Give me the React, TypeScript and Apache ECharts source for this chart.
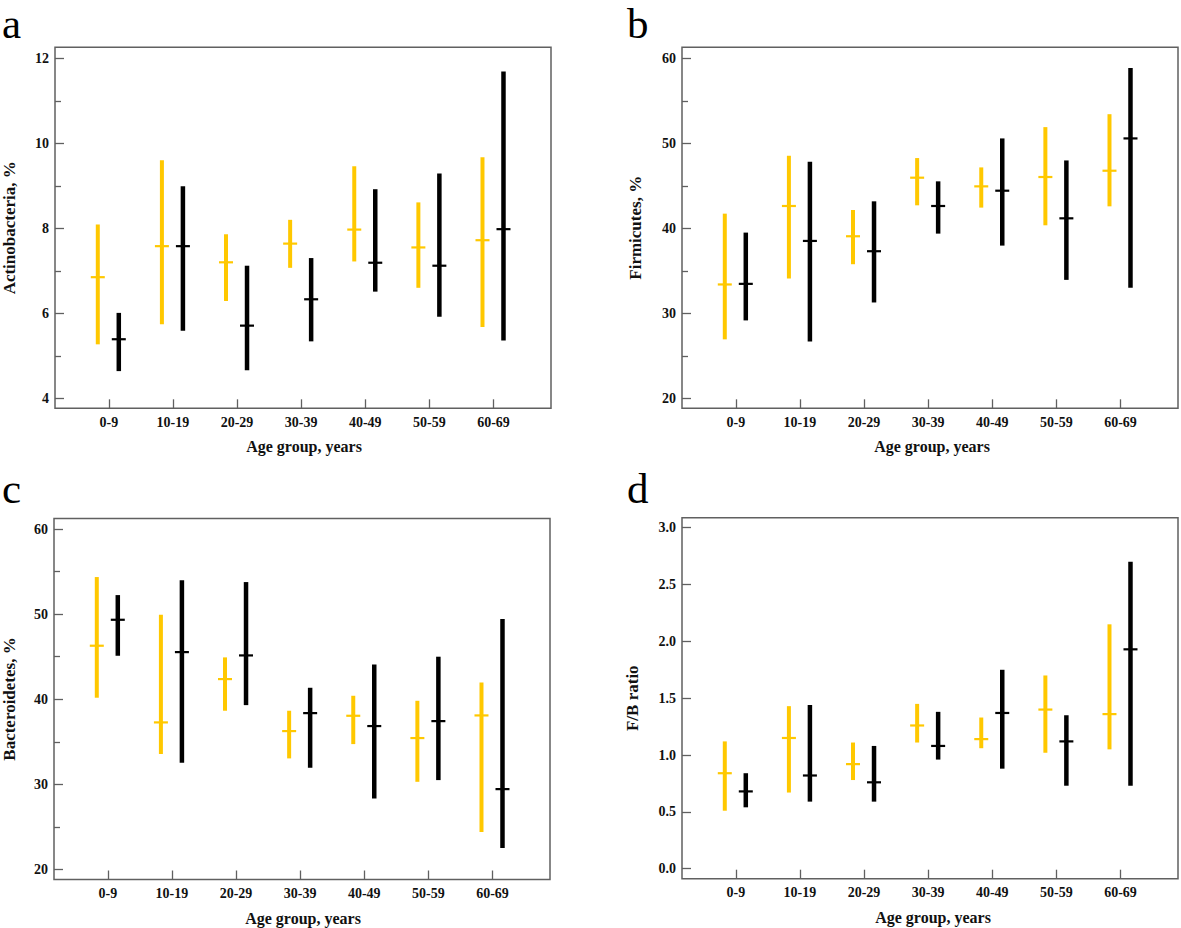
import React, { useEffect, useRef } from "react";
import * as echarts from "echarts";

const categories = ["0-9", "10-19", "20-29", "30-39", "40-49", "50-59", "60-69"];

// Panel a: Actinobacteria, %
const actinoYellowLow = [5.27, 5.74, 6.29, 7.07, 7.22, 6.6, 5.68];
const actinoYellowMed = [6.85, 7.58, 7.2, 7.64, 7.97, 7.55, 7.72];
const actinoYellowHigh = [8.09, 9.6, 7.86, 8.2, 9.46, 8.61, 9.67];
const actinoBlackLow = [4.64, 5.59, 4.66, 5.34, 6.51, 5.92, 5.36];
const actinoBlackMed = [5.39, 7.58, 5.71, 6.33, 7.19, 7.12, 7.98];
const actinoBlackHigh = [6.01, 8.99, 7.12, 7.3, 8.92, 9.29, 11.69];

// Panel b: Firmicutes, %
const firmYellowLow = [26.93, 34.09, 35.77, 42.7, 42.43, 40.35, 42.58];
const firmYellowMed = [33.39, 42.62, 39.06, 45.95, 44.93, 46.03, 46.77];
const firmYellowHigh = [41.72, 48.53, 42.15, 48.26, 47.16, 51.9, 53.42];
const firmBlackLow = [29.16, 26.69, 31.27, 39.37, 37.96, 33.93, 32.99];
const firmBlackMed = [33.46, 38.51, 37.3, 42.62, 44.42, 41.17, 50.57];
const firmBlackHigh = [39.49, 47.83, 43.17, 45.52, 50.57, 47.98, 58.86];

// Panel c: Bacteroidetes, %
const bactYellowLow = [40.18, 33.56, 38.65, 33.05, 34.73, 30.3, 24.39];
const bactYellowMed = [46.29, 37.28, 42.37, 36.26, 38.06, 35.44, 38.1];
const bactYellowHigh = [54.36, 49.93, 44.92, 38.65, 40.41, 39.82, 41.98];
const bactBlackLow = [45.11, 32.54, 39.31, 31.95, 28.34, 30.5, 22.51];
const bactBlackMed = [49.34, 45.54, 45.15, 38.37, 36.85, 37.43, 29.44];
const bactBlackHigh = [52.24, 53.97, 53.77, 41.35, 44.09, 45.0, 49.42];

// Panel d: F/B ratio
const fbYellowLow = [0.51, 0.67, 0.78, 1.11, 1.06, 1.02, 1.05];
const fbYellowMed = [0.84, 1.15, 0.92, 1.26, 1.14, 1.4, 1.36];
const fbYellowHigh = [1.12, 1.43, 1.11, 1.45, 1.33, 1.7, 2.15];
const fbBlackLow = [0.54, 0.59, 0.59, 0.96, 0.88, 0.73, 0.73];
const fbBlackMed = [0.68, 0.82, 0.76, 1.08, 1.37, 1.12, 1.93];
const fbBlackHigh = [0.84, 1.44, 1.08, 1.38, 1.75, 1.35, 2.7];

const ticksA = [4, 6, 8, 10, 12];
const minorA = [5, 7, 9, 11];
const ticksB = [20, 30, 40, 50, 60];
const minorB = [25, 35, 45, 55];
const ticksC = [20, 30, 40, 50, 60];
const minorC = [25, 35, 45, 55];
const ticksD = [0, 0.5, 1, 1.5, 2, 2.5, 3];
const minorD: number[] = [];

const YELLOW = "#FFC800";
const BLACK = "#000000";
const AXIS_GRAY = "#606060";
const FONT = "'Liberation Serif', 'Times New Roman', serif";

type Panel = {
  letter: string;
  yName: string;
  left: number;
  top: number;
  yMin: number;
  yMax: number;
  ticks: number[];
  minor: number[];
  decimals: number;
  yellow: number[][];
  black: number[][];
  nameX: number;
  titleX: number;
  letterX: number;
  letterY: number;
};

function zip(lo: number[], med: number[], hi: number[]) {
  return lo.map((l, i) => [i + 1, l, med[i], hi[i]]);
}

const W = 496;
const H = 361;

const panels: Panel[] = [
  {
    letter: "a", yName: "Actinobacteria, %", left: 55, top: 47.3,
    yMin: 3.765, yMax: 12.259, ticks: ticksA, minor: minorA, decimals: 0,
    yellow: zip(actinoYellowLow, actinoYellowMed, actinoYellowHigh),
    black: zip(actinoBlackLow, actinoBlackMed, actinoBlackHigh),
    nameX: 9.5, titleX: 304, letterX: 2, letterY: 2,
  },
  {
    letter: "b", yName: "Firmicutes, %", left: 682, top: 47.3,
    yMin: 18.82, yMax: 61.29, ticks: ticksB, minor: minorB, decimals: 0,
    yellow: zip(firmYellowLow, firmYellowMed, firmYellowHigh),
    black: zip(firmBlackLow, firmBlackMed, firmBlackHigh),
    nameX: 635.5, titleX: 932, letterX: 627, letterY: 2,
  },
  {
    letter: "c", yName: "Bacteroidetes, %", left: 54, top: 518.5,
    yMin: 18.82, yMax: 61.24, ticks: ticksC, minor: minorC, decimals: 0,
    yellow: zip(bactYellowLow, bactYellowMed, bactYellowHigh),
    black: zip(bactBlackLow, bactBlackMed, bactBlackHigh),
    nameX: 9.5, titleX: 303, letterX: 2, letterY: 467,
  },
  {
    letter: "d", yName: "F/B ratio", left: 682, top: 517.7,
    yMin: -0.088, yMax: 3.088, ticks: ticksD, minor: minorD, decimals: 1,
    yellow: zip(fbYellowLow, fbYellowMed, fbYellowHigh),
    black: zip(fbBlackLow, fbBlackMed, fbBlackHigh),
    nameX: 632.5, titleX: 933, letterX: 627, letterY: 467,
  },
];

function makeRender(color: string, offset: number, barW: number) {
  return (params: any, api: any) => {
    const x = api.value(0);
    const lo = api.value(1);
    const med = api.value(2);
    const hi = api.value(3);
    const pLo = api.coord([x, lo]);
    const pHi = api.coord([x, hi]);
    const pMed = api.coord([x, med]);
    const cx = pLo[0] + offset;
    return {
      type: "group",
      children: [
        {
          type: "rect",
          shape: { x: cx - barW / 2, y: pHi[1], width: barW, height: pLo[1] - pHi[1] },
          style: { fill: color },
        },
        {
          type: "rect",
          shape: { x: cx - 7, y: pMed[1] - 1.1, width: 14, height: 2.2 },
          style: { fill: color },
        },
      ],
    };
  };
}

export default function App() {
  const ref = useRef<HTMLDivElement>(null);
  useEffect(() => {
    if (!ref.current) return;
    const chart = echarts.init(ref.current, null, { renderer: "svg" });

    const grid: any[] = [];
    const xAxis: any[] = [];
    const yAxis: any[] = [];
    const series: any[] = [];
    const graphic: any[] = [];

    panels.forEach((p, k) => {
      grid.push({
        left: p.left, top: p.top, width: W, height: H,
        show: true, borderColor: AXIS_GRAY, borderWidth: 1.5,
        backgroundColor: "transparent",
      });
      xAxis.push({
        type: "value", gridIndex: k, min: 0.161, max: 7.897, position: "bottom",
        axisLine: { show: false, onZero: false },
        splitLine: { show: false },
        axisTick: {
          show: true, inside: true, length: 9, customValues: [1, 2, 3, 4, 5, 6, 7],
          lineStyle: { color: AXIS_GRAY, width: 1.3 },
        },
        axisLabel: {
          show: true, customValues: [1, 2, 3, 4, 5, 6, 7], margin: 7,
          formatter: (v: number) => categories[Math.round(v) - 1] ?? "",
          fontFamily: FONT, fontWeight: "bold", fontSize: 14, color: "#111",
        },
      });
      const majorIdx = yAxis.length;
      yAxis.push({
        type: "value", gridIndex: k, min: p.yMin, max: p.yMax, position: "left",
        axisLine: { show: false, onZero: false },
        splitLine: { show: false },
        axisTick: {
          show: true, inside: true, length: 9, customValues: p.ticks,
          lineStyle: { color: AXIS_GRAY, width: 1.3 },
        },
        axisLabel: {
          show: true, customValues: p.ticks, margin: 6,
          formatter: (v: number) => v.toFixed(p.decimals),
          fontFamily: FONT, fontWeight: "bold", fontSize: 14, color: "#111",
        },
      });
      if (p.minor.length) {
        yAxis.push({
          type: "value", gridIndex: k, min: p.yMin, max: p.yMax, position: "left", offset: 0,
          axisLine: { show: false, onZero: false },
          splitLine: { show: false },
          axisTick: {
            show: true, inside: true, length: 6, customValues: p.minor,
            lineStyle: { color: AXIS_GRAY, width: 1.3 },
          },
          axisLabel: { show: false },
        });
      }
      series.push({
        type: "custom", xAxisIndex: k, yAxisIndex: majorIdx,
        renderItem: makeRender(YELLOW, -11, 4),
        encode: { x: 0, y: [1, 2, 3] },
        data: p.yellow,
      });
      series.push({
        type: "custom", xAxisIndex: k, yAxisIndex: majorIdx,
        renderItem: makeRender(BLACK, 10, 4.5),
        encode: { x: 0, y: [1, 2, 3] },
        data: p.black,
      });
      const cy = p.top + H / 2;
      graphic.push({
        type: "text", x: p.nameX, y: cy, rotation: Math.PI / 2,
        style: {
          text: p.yName, font: `bold 17px ${FONT}`, fill: "#111",
          align: "center", verticalAlign: "middle",
        },
      });
      graphic.push({
        type: "text", x: p.titleX, y: p.top + H + 38.5,
        style: {
          text: "Age group, years", font: `bold 16px ${FONT}`, fill: "#111",
          align: "center", verticalAlign: "middle",
        },
      });
      graphic.push({
        type: "text", x: p.letterX, y: p.letterY,
        style: {
          text: p.letter, font: `43px ${FONT}`, fill: "#000",
          align: "left", verticalAlign: "top",
        },
      });
    });

    chart.setOption({
      animation: false,
      backgroundColor: "#ffffff",
      grid, xAxis, yAxis, series, graphic,
    });
    return () => chart.dispose();
  }, []);

  return (
    <div
      ref={ref}
      style={{ position: "fixed", left: 0, top: 0, width: 1181, height: 928, background: "#fff" }}
    />
  );
}
